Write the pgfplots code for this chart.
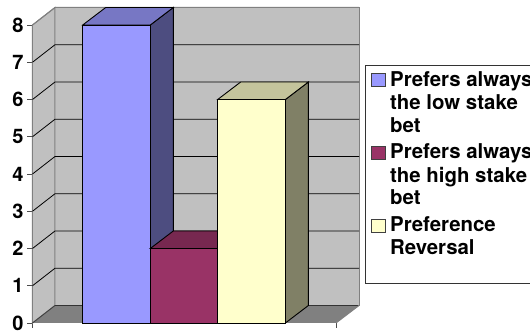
\documentclass[border=0pt]{standalone}
\usepackage{pgfplots}
\pgfplotsset{compat=1.18}
\usepackage{fontspec}
\setmainfont{TeX Gyre Heros}
\definecolor{lowFront}{HTML}{9999FF}
\definecolor{lowTop}{HTML}{7777C4}
\definecolor{lowSide}{HTML}{4D4D80}
\definecolor{highFront}{HTML}{993366}
\definecolor{highTop}{HTML}{772850}
\definecolor{highSide}{HTML}{4D1A33}
\definecolor{revFront}{HTML}{FFFFCC}
\definecolor{revTop}{HTML}{C4C49C}
\definecolor{revSide}{HTML}{808066}
\definecolor{wall}{HTML}{C0C0C0}
\definecolor{wallEdge}{HTML}{808080}
\newcommand{\legendfont}{\fontsize{20.4pt}{23pt}\selectfont\bfseries}
% one line of legend text, placed by its baseline
\newcommand{\legendline}[2]{\node[anchor=base west,inner sep=0pt,font=\legendfont] at (390pt,{(331-#1)*1pt}) {#2};}
% one legend swatch, top and bottom edge given from the top of the picture
\newcommand{\legendkey}[3]{\draw[fill=#3,draw=black!75,line width=0.9pt] (371.5pt,{(331-#1)*1pt}) rectangle (385pt,{(331-#2)*1pt});}
\begin{document}
\begin{tikzpicture}
\path[use as bounding box] (0,0) rectangle (530pt,331pt);
\begin{axis}[
  at={(32.5pt,8pt)},anchor=south west,
  scale only axis,width=303.5pt,height=298pt,
  xmin=32.5,xmax=336,ymin=0,ymax=8,
  clip=false,
  axis x line*=bottom,axis y line*=left,
  x axis line style={black,line width=1pt,-},
  y axis line style={wallEdge,line width=1pt,-},
  xtick={32.5,336},xticklabels={,},
  ytick={0,1,2,3,4,5,6,7,8},
  major tick length=5pt,
  tick style={black!70,line width=0.9pt},
  xtick align=outside,ytick align=outside,
  tick label style={font=\fontsize{20pt}{20pt}\selectfont\bfseries},
  /pgf/number format/assume math mode=true,
  yticklabel style={xshift=-0.5pt},
]
% back wall, side wall and floor
\addplot[fill=wall,draw=wallEdge,line width=1pt] coordinates {(55,0.47)(359,0.47)(359,8.47)(55,8.47)} --cycle;
\addplot[fill=wall,draw=wallEdge,line width=1pt] coordinates {(32.5,0)(55,0.47)(55,8.47)(32.5,8)} --cycle;
\addplot[fill=wallEdge,draw=none] coordinates {(32.5,0)(336,0)(359,0.47)(55,0.47)} --cycle;
\addplot[black!80,line width=0.9pt] coordinates {(55,0.47)(359,0.47)};
% grid lines along the back wall and across the side wall
\addplot[black,line width=0.8pt] coordinates {(32.5,1)(55,1.47)(359,1.47)};
\addplot[black,line width=0.8pt] coordinates {(32.5,2)(55,2.47)(359,2.47)};
\addplot[black,line width=0.8pt] coordinates {(32.5,3)(55,3.47)(359,3.47)};
\addplot[black,line width=0.8pt] coordinates {(32.5,4)(55,4.47)(359,4.47)};
\addplot[black,line width=0.8pt] coordinates {(32.5,5)(55,5.47)(359,5.47)};
\addplot[black,line width=0.8pt] coordinates {(32.5,6)(55,6.47)(359,6.47)};
\addplot[black,line width=0.8pt] coordinates {(32.5,7)(55,7.47)(359,7.47)};
\addplot[wallEdge,line width=1pt] coordinates {(32.5,8)(55,8.47)(359,8.47)};
\addplot[black!75,line width=0.9pt] coordinates {(32.5,0)(55,0.47)};
\addplot[wallEdge,line width=1pt] coordinates {(336,0)(359,0.47)};
% low stake bar, value 8
\addplot[fill=lowSide,draw=black,line width=0.9pt] coordinates {(150.3,0)(173.3,0.47)(173.3,8.47)(150.3,8)} --cycle;
\addplot[fill=lowTop,draw=black,line width=0.9pt] coordinates {(82.7,8)(150.3,8)(173.3,8.47)(105.7,8.47)} --cycle;
\addplot[fill=lowFront,draw=black,line width=0.9pt] coordinates {(82.7,0)(150.3,0)(150.3,8)(82.7,8)} --cycle;
% high stake bar, value 2
\addplot[fill=highSide,draw=black,line width=0.9pt] coordinates {(217.7,0)(240.7,0.47)(240.7,2.47)(217.7,2)} --cycle;
\addplot[fill=highTop,draw=black,line width=0.9pt] coordinates {(150.3,2)(217.7,2)(240.7,2.47)(173.3,2.47)} --cycle;
\addplot[fill=highFront,draw=black,line width=0.9pt] coordinates {(150.3,0)(217.7,0)(217.7,2)(150.3,2)} --cycle;
% preference reversal bar, value 6
\addplot[fill=revSide,draw=black,line width=0.9pt] coordinates {(285.4,0)(308.4,0.47)(308.4,6.47)(285.4,6)} --cycle;
\addplot[fill=revTop,draw=black,line width=0.9pt] coordinates {(217.7,6)(285.4,6)(308.4,6.47)(240.7,6.47)} --cycle;
\addplot[fill=revFront,draw=black,line width=0.9pt] coordinates {(217.7,0)(285.4,0)(285.4,6)(217.7,6)} --cycle;
\end{axis}
% legend box, running past the right edge of the page
\draw[fill=white,draw=black!80,line width=0.9pt] (540pt,266pt) -- (365.5pt,266pt) -- (365.5pt,48pt) -- (540pt,48pt);
\legendkey{73.3}{86.7}{lowFront}
\legendline{86.7}{Prefers always}
\legendline{110}{the low stake}
\legendline{132.7}{bet}
\legendkey{146}{159}{highFront}
\legendline{159}{Prefers always}
\legendline{182.5}{the high stake}
\legendline{205}{bet}
\legendkey{219}{232}{revFront}
\legendline{232}{Preference}
\legendline{255}{Reversal}
\end{tikzpicture}
\end{document}
